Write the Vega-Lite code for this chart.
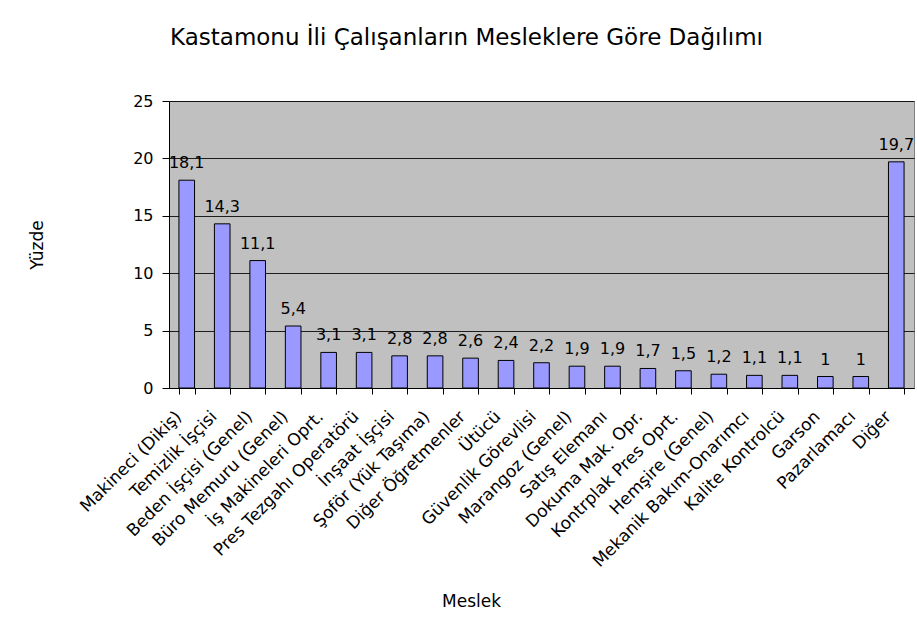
{
  "$schema": "https://vega.github.io/schema/vega-lite/v6.json",
  "autosize": "none",
  "width": 745,
  "height": 287,
  "padding": {"left": 169, "top": 101, "right": 3, "bottom": 245},
  "background": "white",
  "config": {
    "locale": {"number": {"decimal": ",", "thousands": ".", "grouping": [3], "currency": ["", " TL"]}},
    "font": "DejaVu Sans",
    "view": {"fill": "#C0C0C0", "stroke": "#808080", "strokeWidth": 1}
  },
  "title": {
    "text": "Kastamonu İli Çalışanların Mesleklere Göre Dağılımı",
    "fontSize": 23,
    "fontWeight": "normal",
    "color": "#000000",
    "anchor": "middle",
    "dx": -75,
    "offset": 43
  },
  "data": {
    "values": [
      {"meslek": "Makineci (Dikiş)", "yuzde": 18.1},
      {"meslek": "Temizlik İşçisi", "yuzde": 14.3},
      {"meslek": "Beden İşçisi (Genel)", "yuzde": 11.1},
      {"meslek": "Büro Memuru (Genel)", "yuzde": 5.4},
      {"meslek": "İş Makineleri Oprt.", "yuzde": 3.1},
      {"meslek": "Pres Tezgahı Operatörü", "yuzde": 3.1},
      {"meslek": "İnşaat İşçisi", "yuzde": 2.8},
      {"meslek": "Şoför (Yük Taşıma)", "yuzde": 2.8},
      {"meslek": "Diğer Öğretmenler", "yuzde": 2.6},
      {"meslek": "Ütücü", "yuzde": 2.4},
      {"meslek": "Güvenlik Görevlisi", "yuzde": 2.2},
      {"meslek": "Marangoz (Genel)", "yuzde": 1.9},
      {"meslek": "Satış Elemanı", "yuzde": 1.9},
      {"meslek": "Dokuma Mak. Opr.", "yuzde": 1.7},
      {"meslek": "Kontrplak Pres Oprt.", "yuzde": 1.5},
      {"meslek": "Hemşire (Genel)", "yuzde": 1.2},
      {"meslek": "Mekanik Bakım-Onarımcı", "yuzde": 1.1},
      {"meslek": "Kalite Kontrolcü", "yuzde": 1.1},
      {"meslek": "Garson", "yuzde": 1},
      {"meslek": "Pazarlamacı", "yuzde": 1},
      {"meslek": "Diğer", "yuzde": 19.7}
    ]
  },
  "encoding": {
    "x": {
      "field": "meslek",
      "type": "nominal",
      "sort": null,
      "scale": {"paddingInner": 0.56, "paddingOuter": 0.28},
      "axis": {
        "title": "Meslek",
        "titleFontSize": 17,
        "titleFontWeight": "normal",
        "titleColor": "#000000",
        "titleX": 302,
        "titleY": 213,
        "titleBaseline": "middle",
        "labelAngle": -45,
        "labelAlign": "right",
        "labelBaseline": "top",
        "labelFontSize": 17,
        "labelColor": "#000000",
        "labelPadding": 14,
        "labelOffset": -14,
        "labelOverlap": false,
        "labelLimit": 300,
        "tickBand": "extent",
        "tickSize": 6,
        "tickColor": "#000000",
        "domainColor": "#000000"
      }
    },
    "y": {
      "field": "yuzde",
      "type": "quantitative",
      "scale": {"domain": [0, 25], "nice": false},
      "axis": {
        "title": "Yüzde",
        "titleFontSize": 17,
        "titleFontWeight": "normal",
        "titleColor": "#000000",
        "titlePadding": 86,
        "values": [0, 5, 10, 15, 20, 25],
        "labelFontSize": 16,
        "labelColor": "#000000",
        "labelPadding": 9,
        "tickSize": 7,
        "tickColor": "#000000",
        "domainColor": "#000000",
        "grid": true,
        "gridColor": "#000000",
        "gridOpacity": 0.85
      }
    }
  },
  "layer": [
    {
      "mark": {"type": "bar", "fill": "#9999FF", "stroke": "#000000", "strokeWidth": 1}
    },
    {
      "mark": {"type": "text", "baseline": "bottom", "dy": -9, "fontSize": 16, "color": "#000000"},
      "encoding": {
        "text": {"field": "yuzde", "type": "quantitative", "format": ".3~g"}
      }
    }
  ]
}
